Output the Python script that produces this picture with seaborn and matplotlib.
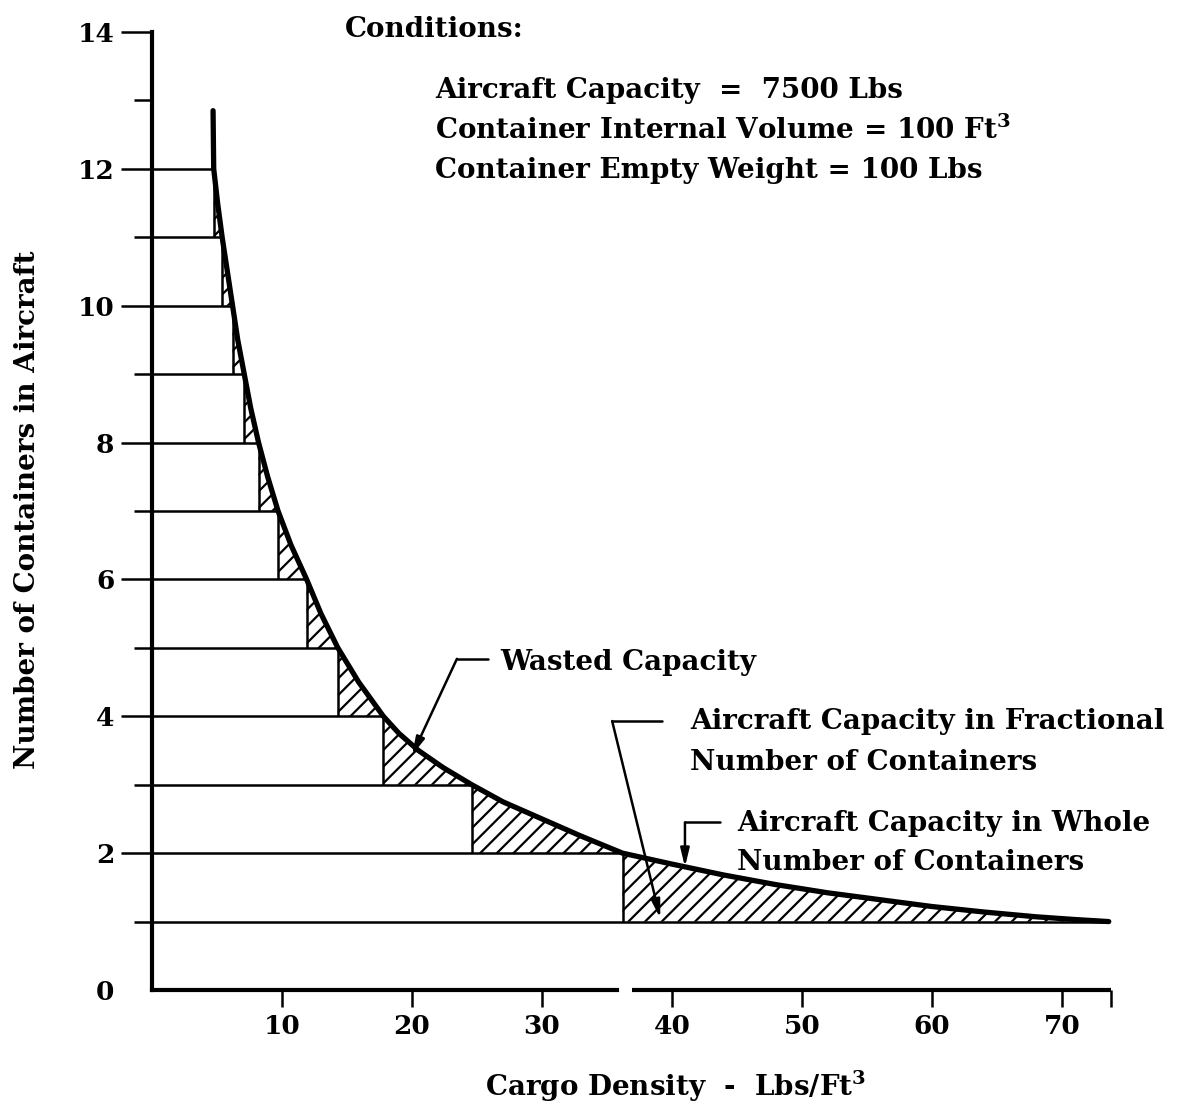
import numpy as np
import matplotlib
matplotlib.use("Agg")
import matplotlib.pyplot as plt
import seaborn as sns

# 曲線（小数個のコンテナ数）: 図から読み取った値
curve_x = [4.7, 4.75, 5.05, 5.4, 5.8, 6.2, 6.6, 7.1, 7.6, 8.2, 8.9, 9.7, 10.7, 11.9,
           13.0, 14.3, 15.9, 17.8, 19.0, 20.5, 22.4, 24.6, 27.0, 30.0, 33.0, 36.2,
           40.0, 44.0, 48.0, 52.0, 56.0, 60.0, 64.0, 68.0, 71.0, 73.6]
curve_y = [12.85, 12.0, 11.5, 11.0, 10.5, 10.0, 9.5, 9.0, 8.5, 8.0, 7.5, 7.0, 6.5, 6.0,
           5.5, 5.0, 4.5, 4.0, 3.75, 3.5, 3.25, 3.0, 2.75, 2.5, 2.25, 2.0,
           1.84, 1.68, 1.54, 1.42, 1.32, 1.22, 1.14, 1.07, 1.03, 1.0]

# 整数個のコンテナ数の段 (n = 1..12) と、その段が曲線に届く密度
step_n = [1, 2, 3, 4, 5, 6, 7, 8, 9, 10, 11, 12]
step_x = [73.6, 36.2, 24.6, 17.8, 14.3, 11.9, 9.7, 8.2, 7.1, 6.2, 5.4, 4.75]

x_ticks = [10, 20, 30, 40, 50, 60, 70]
y_ticks = [0, 2, 4, 6, 8, 10, 12, 14]
y_minor = [1, 3, 5, 7, 9, 11, 13]

conditions = ["Aircraft Capacity  =  7500 Lbs",
              "Container Internal Volume = 100 Ft$^3$",
              "Container Empty Weight = 100 Lbs"]

sns.set_theme(style="white")
plt.rcParams['font.family'] = ['DejaVu Serif']
plt.rcParams['font.weight'] = 'bold'
plt.rcParams['mathtext.fontset'] = 'dejavuserif'
plt.rcParams['mathtext.default'] = 'bf'
plt.rcParams['text.color'] = 'black'
plt.rcParams['axes.labelcolor'] = 'black'
plt.rcParams['axes.labelweight'] = 'bold'
plt.rcParams['xtick.color'] = 'black'
plt.rcParams['ytick.color'] = 'black'
plt.rcParams['hatch.linewidth'] = 1.6
plt.rcParams['hatch.color'] = 'black'

FS = 20
fig = plt.figure(figsize=(11.78, 11.14), dpi=100)
ax = fig.add_axes([0.129, 0.1113, 0.8387, 0.8907])
ax.set_xlim(0, 76)
ax.set_ylim(0, 14.5)

# 斜線部（無駄になる容量）: 各段ごとに曲線と床の間を塗る
cx = np.array(curve_x)
cy = np.array(curve_y)
for i, n in enumerate(step_n[:-1]):
    left = step_x[i + 1]
    right = step_x[i]
    m = (cx >= left) & (cx <= right)
    ax.fill_between(cx[m], n, cy[m], facecolor='none', edgecolor='black',
                    hatch='//', linewidth=0)

# 段の水平線と垂直線
ax.hlines(step_n, 0, step_x, color='black', linewidth=1.8)
ax.vlines(step_x[1:], [n - 1 for n in step_n[1:]], step_n[1:], color='black', linewidth=1.8)

# 曲線
sns.lineplot(x=curve_x, y=curve_y, sort=False, estimator=None, color='black',
             linewidth=3.8, ax=ax)
ax.lines[-1].set_solid_capstyle('round')

# 軸
for side in ['top', 'right']:
    ax.spines[side].set_visible(False)
ax.spines['left'].set_bounds(0, 14)
ax.spines['left'].set_linewidth(3)
ax.spines['left'].set_color('black')
gap = (35.8, 36.9)
x_end = 73.8
ax.spines['bottom'].set_bounds(0, gap[0])
ax.spines['bottom'].set_linewidth(3)
ax.spines['bottom'].set_color('black')
ax.plot([gap[1], x_end], [0, 0], color='black', linewidth=3, clip_on=False,
        solid_capstyle='butt')

ax.set_xticks(x_ticks)
ax.set_xticklabels([str(v) for v in x_ticks], fontsize=FS - 1, fontweight='bold')
ax.set_xticks([x_end], minor=True)
ax.set_yticks(y_ticks)
ax.set_yticklabels([str(v) for v in y_ticks], fontsize=FS - 1, fontweight='bold')
ax.set_yticks(y_minor, minor=True)
ax.tick_params(axis='x', which='both', direction='out', length=12, width=1.8,
               pad=5, bottom=True, color='black')
ax.tick_params(axis='y', which='major', direction='out', length=22, width=1.8,
               pad=5, left=True, color='black')
ax.tick_params(axis='y', which='minor', direction='out', length=13, width=1.8,
               left=True, color='black')
ax.yaxis.get_major_ticks()[0].tick1line.set_visible(False)

ax.set_xlabel("Cargo Density  -  Lbs/Ft$^3$", fontsize=FS)
ax.set_ylabel("Number of Containers in Aircraft", fontsize=FS)
ax.xaxis.set_label_coords(0.53, -0.079)
ax.yaxis.set_label_coords(-0.112, 0.484)

# 条件
ax.text(14.85, 14.03, "Conditions:", fontsize=FS, va='center', ha='left')
for k, line in enumerate(conditions):
    ax.text(21.77, 13.15 - 0.59 * k, line, fontsize=FS, va='center', ha='left')

# 注記
arrow = dict(arrowstyle='-|>,head_length=0.9,head_width=0.22', color='black',
             linewidth=1.8, shrinkA=0, shrinkB=0)

ax.text(26.77, 4.79, "Wasted Capacity", fontsize=FS, va='center', ha='left')
ax.plot([25.85, 23.46], [4.84, 4.84], color='black', linewidth=1.8)
ax.annotate("", xy=(20.0, 3.43), xytext=(23.46, 4.84), arrowprops=arrow)

ax.text(41.4, 3.92, "Aircraft Capacity in Fractional", fontsize=FS, va='center', ha='left')
ax.text(41.4, 3.32, "Number of Containers", fontsize=FS, va='center', ha='left')
ax.plot([39.2, 35.4], [3.93, 3.93], color='black', linewidth=1.8)
ax.annotate("", xy=(39.1, 1.05), xytext=(35.4, 3.93), arrowprops=arrow)

ax.text(45.0, 2.43, "Aircraft Capacity in Whole", fontsize=FS, va='center', ha='left')
ax.text(45.0, 1.87, "Number of Containers", fontsize=FS, va='center', ha='left')
ax.plot([43.7, 41.0], [2.45, 2.45], color='black', linewidth=1.8)
ax.annotate("", xy=(41.0, 1.80), xytext=(41.0, 2.45), arrowprops=arrow)

fig.savefig("out.png", dpi=100, facecolor='white')
